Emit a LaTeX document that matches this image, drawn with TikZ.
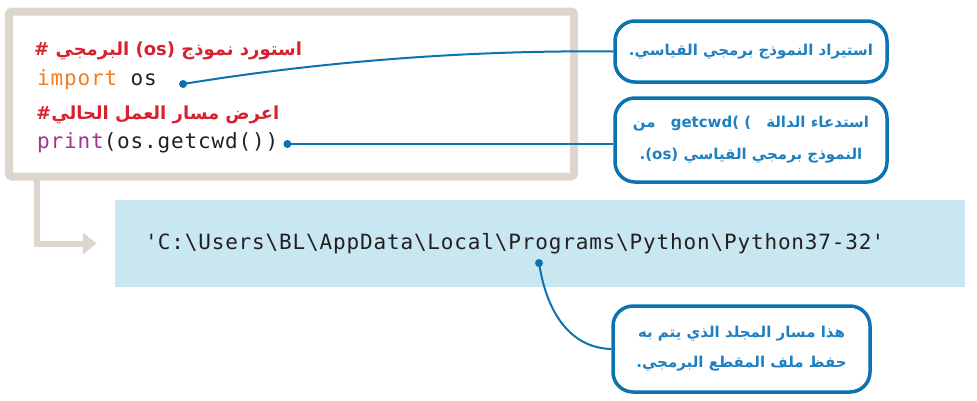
\documentclass[tikz,border=0pt]{standalone}
\usepackage{fontspec}
\setmainfont{DejaVu Sans}
\newfontfamily\arabicfont[Script=Arabic]{DejaVu Sans}
\newfontfamily\codefont[LetterSpace=4]{DejaVu Sans Mono}
\usetikzlibrary{arrows.meta}
\TeXXeTstate=1
\definecolor{boxgray}{HTML}{DDD6CD}
\definecolor{outblue}{HTML}{C8E7F1}
\definecolor{noteblue}{HTML}{0C72B0}
\definecolor{notetext}{HTML}{1E80C1}
\definecolor{commentred}{HTML}{D7212E}
\definecolor{kworange}{HTML}{EF7D22}
\definecolor{fnpurple}{HTML}{A0348F}
\definecolor{codeblack}{HTML}{231F20}
\tikzstyle{codebox}=[draw=boxgray,line width=8pt,rounded corners=3pt,minimum width=565pt,minimum height=165pt]
\tikzstyle{outbox}=[fill=outblue,minimum width=850pt,minimum height=87pt]
\tikzstyle{codeline}=[anchor=west,inner sep=0pt,text=codeblack,font=\codefont\fontsize{21}{24}\selectfont]
\tikzstyle{comment}=[anchor=west,inner sep=0pt,text=commentred,font=\arabicfont\bfseries\fontsize{18}{22}\selectfont]
\tikzstyle{callout}=[draw=noteblue,line width=3.5pt,rounded corners=20pt,fill=white,align=center,text=notetext,font=\arabicfont\bfseries\fontsize{15}{32}\selectfont]
\tikzstyle{link}=[noteblue,line width=2pt]
\tikzstyle{linkdot}=[noteblue]
\tikzstyle{flow}=[boxgray,line width=6pt,-{Triangle[width=21pt,length=14pt]}]

\begin{document}
\begin{tikzpicture}[x=1pt,y=-1pt]
\useasboundingbox (0,0) rectangle (977,400);

\node[codebox] (code) at (291.5,94) {};
\node[comment] (comment1) at (34,51) {\beginR استورد نموذج (os) البرمجي \#\endR};
\node[codeline] (import) at (37,80) {\textcolor{kworange}{import} os};
\node[comment] (comment2) at (36,115) {\beginR اعرض مسار العمل الحالي\#\endR};
\node[codeline] (print) at (37,143) {\textcolor{fnpurple}{print}(os.getcwd())};

\node[outbox] (out) at (540,243.5) {};
\node[codeline] (path) at (145,243.5) {\textquotesingle C:\textbackslash Users\textbackslash BL\textbackslash AppData\textbackslash Local\textbackslash Programs\textbackslash Python\textbackslash Python37-32\textquotesingle};

\node[callout,minimum width=272pt,minimum height=61pt] (noteimport) at (751,51.5)
  {\beginR استيراد النموذج برمجي القياسي.\endR};
\node[callout,minimum width=272pt,minimum height=84pt] (notecwd) at (751,140)
  {\beginR استدعاء الدالة\quad\beginL getcwd( )\endL\quad من\endR\\\beginR النموذج برمجي القياسي (os)\kern0pt.\endR};
\node[callout,minimum width=257pt,minimum height=86pt,font=\arabicfont\bfseries\fontsize{15}{30}\selectfont] (notepath) at (741.5,349)
  {\beginR هذا مسار المجلد الذي يتم به\endR\\\beginR حفظ ملف المقطع البرمجي.\endR};

\coordinate (importdot) at ([xshift=26,yshift=-4]import.east);
\coordinate (cwddot) at ([xshift=9,yshift=-1]print.east);
\coordinate (pathdot) at (539,263);
\coordinate (flowstart) at (37,176);

\draw[flow] (flowstart) |- ([xshift=-18]out.west);

\draw[link] (importdot) .. controls (330,60) and (480,50) .. (noteimport.west);
\draw[link] (cwddot) -- (cwddot -| notecwd.west);
\draw[link] (pathdot) .. controls (548,320) and (575,348) .. (notepath.west);
\fill[linkdot] (importdot) circle (4);
\fill[linkdot] (cwddot) circle (4);
\fill[linkdot] (pathdot) circle (4);

\end{tikzpicture}
\end{document}
